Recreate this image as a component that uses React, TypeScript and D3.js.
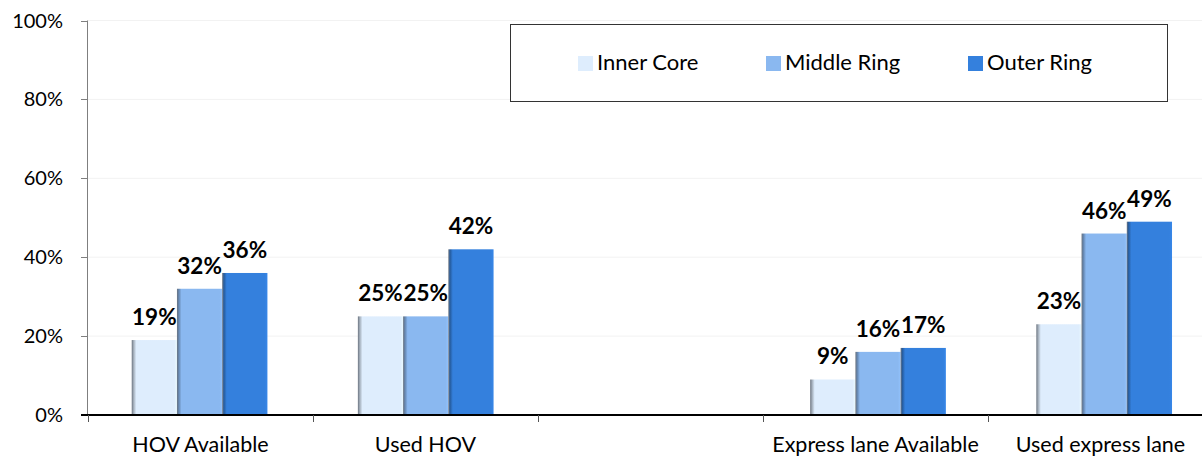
import * as d3 from "d3";

const categories = ["HOV Available", "Used HOV", "", "Express lane Available", "Used express lane"];
const seriesNames = ["Inner Core", "Middle Ring", "Outer Ring"];
const innerCore = [19, 25, null, 9, 23];
const middleRing = [32, 25, null, 16, 46];
const outerRing = [36, 42, null, 17, 49];
const yTicks = [0, 20, 40, 60, 80, 100];

const colors = ["#DEEDFD", "#8AB8F0", "#3480DD"];
const FONT = "Lato, 'Open Sans', sans-serif";

export default function App() {
  const width = 1202;
  const height = 456;
  const margin = { left: 88, top: 20.5, bottom: 41 };

  const series = [innerCore, middleRing, outerRing];
  const idx = categories.map((_, i) => i);

  // category slots (ticks and labels)
  const x = d3
    .scaleBand<number>()
    .domain(idx)
    .range([margin.left, margin.left + 225 * categories.length]);

  // bar groups sit on a slightly wider pitch than the ticks, as in the original
  const xBars = d3
    .scaleBand<number>()
    .domain(idx)
    .range([86.5, 86.5 + 226.15 * categories.length]);

  const inner = d3
    .scaleBand<number>()
    .domain([0, 1, 2])
    .range([xBars.bandwidth() / 5, (xBars.bandwidth() * 4) / 5]);

  const y = d3
    .scaleLinear()
    .domain([0, 100])
    .range([height - margin.bottom, margin.top]);

  const boundaries = idx.map((i) => x(i)!);
  boundaries.push(x(categories.length - 1)! + x.bandwidth());

  return (
    <svg
      width={width}
      height={height}
      style={{ position: "absolute", left: 0, top: 0, background: "#fff" }}
    >
      <defs>
        {colors.map((c, i) => (
          <linearGradient key={i} id={`bar-${i}`} x1="0" x2="1" y1="0" y2="0">
            <stop offset="0%" stopColor="#6b7480" />
            <stop offset="4%" stopColor={d3.color(c)!.darker(0.9).formatHex()} />
            <stop offset="10%" stopColor={c} />
            <stop offset="94%" stopColor={c} />
            <stop offset="100%" stopColor={d3.color(c)!.brighter(0.15).formatHex()} />
          </linearGradient>
        ))}
      </defs>

      {/* faint gridlines */}
      {yTicks.slice(1).map((t) => (
        <line
          key={t}
          x1={margin.left}
          x2={width}
          y1={y(t)}
          y2={y(t)}
          stroke="#f2f2f2"
          strokeWidth={1}
        />
      ))}

      {/* bars */}
      {series.map((vals, si) =>
        vals.map((v, ci) =>
          v == null ? null : (
            <rect
              key={`${si}-${ci}`}
              x={xBars(ci)! + inner(si)!}
              y={y(v)}
              width={inner.bandwidth()}
              height={y(0) - y(v)}
              fill={`url(#bar-${si})`}
            />
          )
        )
      )}

      {/* data labels */}
      {series.map((vals, si) =>
        vals.map((v, ci) =>
          v == null ? null : (
            <text
              key={`l-${si}-${ci}`}
              x={xBars(ci)! + inner(si)! + inner.bandwidth() / 2}
              y={y(v) - 15}
              textAnchor="middle"
              fontFamily={FONT}
              fontWeight="bold"
              fontSize={22.5}
              fill="#000"
            >
              {v}%
            </text>
          )
        )
      )}

      {/* y axis */}
      <line
        x1={margin.left - 0.5}
        x2={margin.left - 0.5}
        y1={y(100)}
        y2={y(0)}
        stroke="#7f7f7f"
        strokeWidth={1}
      />
      {yTicks.map((t) => (
        <g key={t}>
          <line
            x1={margin.left - 7}
            x2={margin.left}
            y1={Math.round(y(t)) + 0.5}
            y2={Math.round(y(t)) + 0.5}
            stroke="#7f7f7f"
          />
          <text
            x={63}
            y={y(t)}
            dy="0.35em"
            textAnchor="end"
            fontFamily={FONT}
            fontSize={20}
            fill="#000"
          >
            {t}%
          </text>
        </g>
      ))}

      {/* x axis */}
      <line
        x1={margin.left - 7}
        x2={width}
        y1={y(0)}
        y2={y(0)}
        stroke="#000"
        strokeWidth={2}
      />
      {boundaries.map((b, i) => (
        <line
          key={i}
          x1={Math.round(b) + 0.5}
          x2={Math.round(b) + 0.5}
          y1={y(0)}
          y2={y(0) + 7}
          stroke="#555"
        />
      ))}
      {categories.map((c, i) => (
        <text
          key={i}
          x={x(i)! + x.bandwidth() / 2}
          y={452}
          textAnchor="middle"
          fontFamily={FONT}
          fontSize={21.5}
          fill="#000"
        >
          {c}
        </text>
      ))}

      {/* legend */}
      <rect
        x={510.5}
        y={24.5}
        width={657}
        height={77}
        fill="#fff"
        stroke="#333"
        strokeWidth={1}
      />
      {seriesNames.map((n, i) => {
        const lx = [578, 766, 968][i];
        return (
          <g key={n}>
            <rect x={lx} y={56} width={15} height={15} fill={colors[i]} />
            <text
              x={lx + 19}
              y={70}
              fontFamily={FONT}
              fontSize={22}
              fill="#000"
            >
              {n}
            </text>
          </g>
        );
      })}
    </svg>
  );
}
